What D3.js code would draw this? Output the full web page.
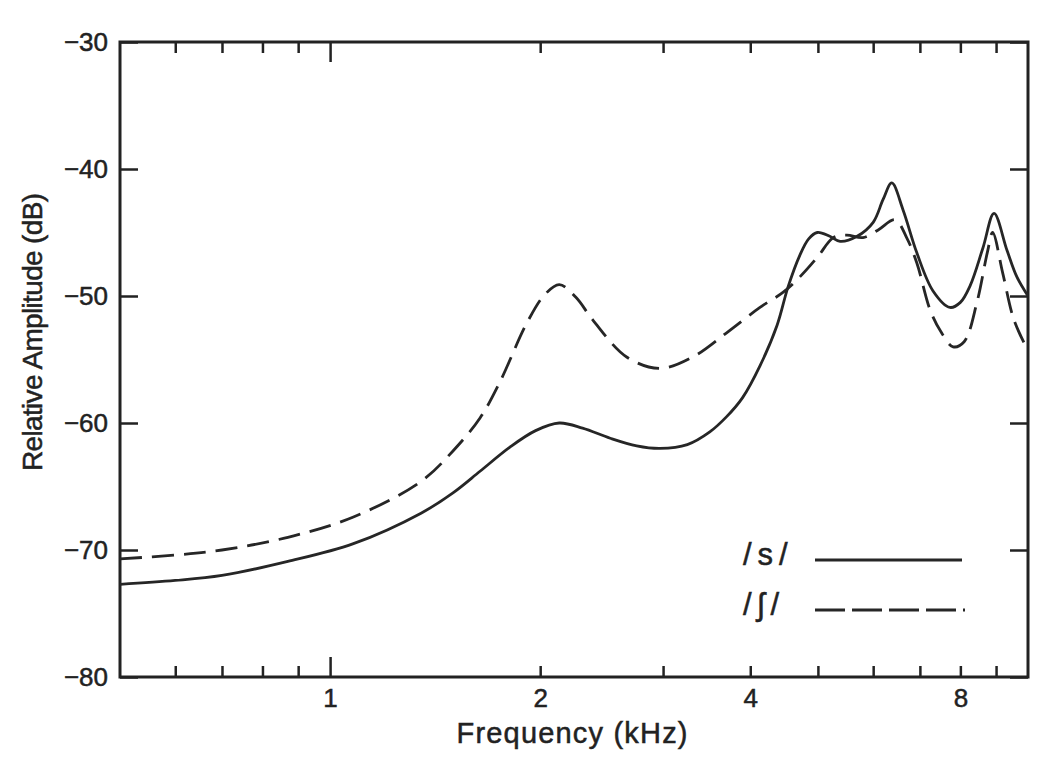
<!DOCTYPE html>
<html lang="en">
<head>
    <meta charset="utf-8">
    <title>Spectra of /s/ and /ʃ/</title>
    <style>
        body { margin: 0; background: #fff; }
        svg { display: block; }
        text {
            font-family: "Liberation Sans", Arial, "DejaVu Sans", sans-serif;
            fill: #222;
            stroke: #222;
            stroke-width: 0.5px;
        }
        .axis path { display: none; }
        .axis line { stroke: #222; stroke-width: 2.5px; }
        .frame { fill: none; stroke: #222; stroke-width: 3px; }
        .line { fill: none; stroke: #262626; stroke-width: 2.8px; }
        .dashed { stroke-dasharray: 22, 10; }
    </style>
</head>
<body>
<svg width="1050" height="761"></svg>
<script src="https://cdn.jsdelivr.net/npm/d3@7/dist/d3.min.js"></script>
<script>
    // /s/ spectrum (frequency in kHz, amplitude in dB)
    const sFreq = [0.5, 0.6, 0.7, 0.87, 1.08, 1.35, 1.5, 1.64, 1.81, 1.97, 2.13, 2.3, 2.52, 2.75, 2.97, 3.25,
        3.5, 3.7, 3.9, 4.13, 4.37, 4.53, 4.71, 4.85, 4.99, 5.2, 5.38, 5.69, 6.0, 6.2, 6.38, 6.62, 6.93, 7.31,
        7.73, 8.0, 8.26, 8.62, 8.94, 9.33, 9.64, 10];
    const sDb = [-72.7, -72.4, -72.0, -70.9, -69.5, -67.1, -65.5, -63.8, -61.9, -60.6, -60.0, -60.4, -61.2, -61.8, -62.0, -61.7,
        -60.7, -59.5, -58.0, -55.5, -52.3, -49.3, -46.8, -45.5, -45.0, -45.3, -45.7, -45.3, -44.2, -42.4, -41.1, -43.2, -46.6, -49.6,
        -50.9, -50.5, -49.2, -46.2, -43.5, -46.4, -48.5, -50.0];

    // /ʃ/ spectrum
    const shFreq = [0.5, 0.6, 0.7, 0.87, 1.08, 1.35, 1.5, 1.64, 1.75, 1.915, 2.03, 2.13, 2.25, 2.38, 2.66, 2.97,
        3.31, 3.7, 4.13, 4.46, 4.71, 5.0, 5.26, 5.5, 5.8, 6.1, 6.45, 6.7, 6.93, 7.24, 7.5, 7.81, 8.1, 8.45,
        8.75, 8.9, 9.2, 9.55, 10];
    const shDb = [-70.7, -70.4, -70.0, -69.0, -67.4, -64.6, -62.2, -59.6, -56.8, -52.1, -49.9, -49.1, -50.1, -51.9, -54.8, -55.7,
        -54.8, -52.9, -50.9, -49.7, -48.5, -46.9, -45.4, -45.2, -45.4, -44.8, -44.0, -45.4, -47.4, -51.1, -52.8, -54.0, -53.6, -50.5,
        -46.5, -45.0, -48.2, -51.9, -54.3];

    // ticks
    const minorTicks = [0.6, 0.7, 0.8, 0.9, 2, 3, 4, 5, 6, 7, 8, 9];
    const majorTicks = [1];
    const xLabels = [1, 2, 4, 8];
    const yTicks = [-80, -70, -60, -50, -40, -30];

    const legendNames = ["/s/", "/ʃ/"];

    // plot box
    const plotLeft = 120, plotRight = 1028, plotTop = 42, plotBottom = 677;

    const x = d3.scaleLog().domain([0.5, 10]).range([plotLeft, plotRight]);
    const y = d3.scaleLinear().domain([-80, -30]).range([plotBottom, plotTop]);

    const svg = d3.select("svg");

    // bottom axis: minor ticks, the 1 kHz tick and labels
    svg.append("g").attr("class", "axis")
        .attr("transform", "translate(0," + plotBottom + ")")
        .call(d3.axisBottom(x).tickValues(minorTicks).tickSize(-11).tickFormat(""));
    svg.append("g").attr("class", "axis")
        .attr("transform", "translate(0," + plotBottom + ")")
        .call(d3.axisBottom(x).tickValues(majorTicks).tickSize(-20).tickFormat(""));
    const xLab = svg.append("g").attr("class", "axis")
        .attr("transform", "translate(0," + plotBottom + ")")
        .call(d3.axisBottom(x).tickValues(xLabels).tickSize(0).tickPadding(12).tickFormat(d3.format("d")));
    xLab.selectAll("line").remove();

    // top axis mirrors bottom
    svg.append("g").attr("class", "axis")
        .attr("transform", "translate(0," + plotTop + ")")
        .call(d3.axisTop(x).tickValues(minorTicks).tickSize(-11).tickFormat(""));
    svg.append("g").attr("class", "axis")
        .attr("transform", "translate(0," + plotTop + ")")
        .call(d3.axisTop(x).tickValues(majorTicks).tickSize(-20).tickFormat(""));

    // left and right axes
    const yLab = svg.append("g").attr("class", "axis")
        .attr("transform", "translate(" + plotLeft + ",0)")
        .call(d3.axisLeft(y).tickValues(yTicks).tickSize(-18).tickPadding(12).tickFormat(d3.format("d")));
    svg.append("g").attr("class", "axis")
        .attr("transform", "translate(" + plotRight + ",0)")
        .call(d3.axisRight(y).tickValues(yTicks).tickSize(-18).tickFormat(""));

    // tick label font (d3 puts font-size 10 on the group)
    svg.selectAll(".axis")
        .attr("font-size", null)
        .attr("font-family", null);
    xLab.selectAll("text").style("font-size", "26px").style("fill", "#222");
    yLab.selectAll("text").style("font-size", "26px").style("fill", "#222");

    // frame
    svg.append("rect")
        .attr("class", "frame")
        .attr("x", plotLeft).attr("y", plotTop)
        .attr("width", plotRight - plotLeft).attr("height", plotBottom - plotTop);

    // clip for the curves
    svg.append("clipPath").attr("id", "plot-clip")
        .append("rect")
        .attr("x", plotLeft).attr("y", plotTop)
        .attr("width", plotRight - plotLeft).attr("height", plotBottom - plotTop);

    const line = d3.line()
        .x(d => x(d[0]))
        .y(d => y(d[1]))
        .curve(d3.curveCatmullRom.alpha(0.5));

    svg.append("path")
        .datum(sFreq.map((f, i) => [f, sDb[i]]))
        .attr("class", "line")
        .attr("clip-path", "url(#plot-clip)")
        .attr("d", line);

    svg.append("path")
        .datum(shFreq.map((f, i) => [f, shDb[i]]))
        .attr("class", "line dashed")
        .attr("clip-path", "url(#plot-clip)")
        .attr("d", line);

    // axis titles
    svg.append("text")
        .attr("x", 572).attr("y", 743)
        .attr("text-anchor", "middle")
        .attr("textLength", 231).attr("lengthAdjust", "spacing")
        .style("font-size", "29px")
        .text("Frequency (kHz)");

    svg.append("text")
        .attr("transform", "translate(42,332) rotate(-90)")
        .attr("text-anchor", "middle")
        .attr("textLength", 278).attr("lengthAdjust", "spacing")
        .style("font-size", "28px")
        .text("Relative Amplitude (dB)");

    // legend
    const legend = svg.append("g");
    legendNames.forEach(function (name, i) {
        const ly = 560 + i * 50;
        legend.append("text")
            .attr("x", 743).attr("y", ly + 5)
            .style("font-size", "31px")
            .style("letter-spacing", "6px")
            .text(name);
        legend.append("line")
            .attr("class", "line")
            .attr("x1", 815).attr("x2", i === 0 ? 962 : 965)
            .attr("y1", ly).attr("y2", ly)
            .style("stroke-dasharray", i === 0 ? null : "30,7");
    });
</script>
</body>
</html>
